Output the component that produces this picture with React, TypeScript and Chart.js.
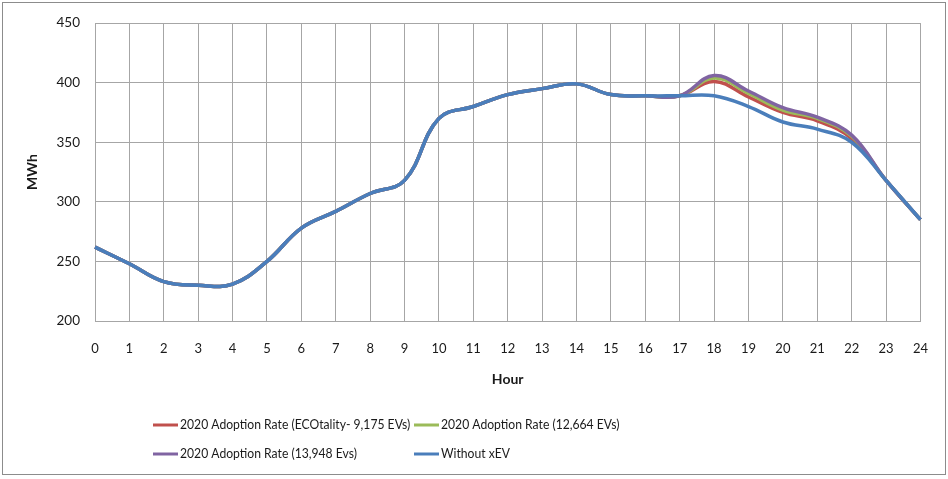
import React, { useEffect, useRef } from "react";
import { Chart, registerables } from "chart.js";

Chart.register(...registerables);

const hours = ["0","1","2","3","4","5","6","7","8","9","10","11","12","13","14","15","16","17","18","19","20","21","22","23","24"];
const withoutXEV = [262,248,233,230,231,250,278,292,307,318,370,380,390,395,399,390,389,389,389,380,367,361,350,318,285];
const ecotality = [262,248,233,230,231,250,278,292,307,318,370,380,390,395,399,390,389,389,401,388,375,368,353,318,285];
const rate12664 = [262,248,233,230,231,250,278,292,307,318,370,380,390,395,399,390,389,389,404,391,377,370,355,318,285];
const rate13948 = [262,248,233,230,231,250,278,292,307,318,370,380,390,395,399,390,389,389,406,393,379,371,356,318,285];

const labels = [
  "2020 Adoption Rate (ECOtality- 9,175 EVs)",
  "2020 Adoption Rate (12,664 EVs)",
  "2020 Adoption Rate (13,948 Evs)",
  "Without xEV",
];
const colors = ["#C0504D", "#9BBB59", "#8064A2", "#4A7EBB"];
const FONT = "Lato, 'Open Sans', sans-serif";

const legendPlugin = {
  id: "gridLegend",
  beforeDraw(chart: any) {
    const ctx = chart.ctx;
    ctx.save();
    ctx.strokeStyle = "#8c8c8c";
    ctx.lineWidth = 1;
    ctx.strokeRect(2.5, 2.5, 943, 472);
    ctx.restore();
  },
  afterDraw(chart: any) {
    const ctx = chart.ctx;
    const ds = chart.data.datasets;
    const pos = [
      { x: 153, y: 425 },
      { x: 414, y: 425 },
      { x: 153, y: 454 },
      { x: 414, y: 454 },
    ];
    ctx.save();
    ctx.font = `13.5px ${FONT}`;
    ctx.textBaseline = "middle";
    ctx.textAlign = "left";
    ds.forEach((d: any, i: number) => {
      const p = pos[i];
      ctx.strokeStyle = d.borderColor;
      ctx.lineWidth = 3;
      ctx.beginPath();
      ctx.moveTo(p.x, p.y);
      ctx.lineTo(p.x + 25, p.y);
      ctx.stroke();
      ctx.fillStyle = "#1a1a1a";
      ctx.save();
      ctx.translate(p.x + 27, p.y);
      ctx.scale(0.9, 1);
      ctx.fillText(d.label, 0, 0);
      ctx.restore();
    });
    ctx.restore();
  },
};

export default function App() {
  const ref = useRef<HTMLCanvasElement>(null);
  useEffect(() => {
    const series = [ecotality, rate12664, rate13948, withoutXEV];
    const orders = [3, 2, 1, 0];
    const chart = new Chart(ref.current!, {
      type: "line",
      data: {
        labels: hours,
        datasets: series.map((s, i) => ({
          label: labels[i],
          data: s,
          borderColor: colors[i],
          backgroundColor: colors[i],
          borderWidth: 3.5,
          pointRadius: 0,
          tension: 0.4,
          fill: false,
          order: orders[i],
        })),
      },
      options: {
        animation: false,
        responsive: false,
        layout: { padding: { left: 20, right: 26, top: 20, bottom: 87 } },
        plugins: { legend: { display: false }, tooltip: { enabled: false } },
        scales: {
          x: {
            offset: false,
            grid: { color: "#a6a6a6", drawTicks: false, lineWidth: 1 },
            border: { color: "#a6a6a6" },
            ticks: { color: "#1a1a1a", font: { family: FONT, size: 13 }, padding: 20, maxRotation: 0, autoSkip: false },
            title: { display: true, text: "Hour", color: "#1a1a1a", font: { family: FONT, size: 14, weight: "bold" } },
            afterFit(scale: any) { scale.height = 71; },
          },
          y: {
            min: 200,
            max: 450,
            grid: { color: "#a6a6a6", drawTicks: false, lineWidth: 1 },
            border: { color: "#a6a6a6" },
            ticks: { stepSize: 50, color: "#1a1a1a", font: { family: FONT, size: 13.5 }, padding: 15 },
            title: { display: true, text: "MWh", color: "#1a1a1a", font: { family: FONT, size: 14, weight: "bold" } },
            afterFit(scale: any) { scale.width = 75; },
          },
        },
      },
      plugins: [legendPlugin],
    } as any);
    return () => chart.destroy();
  }, []);
  return (
    <div style={{ position: "fixed", left: 0, top: 0, width: 948, height: 479, background: "#fff" }}>
      <canvas ref={ref} width={948} height={479} style={{ width: 948, height: 479 }} />
    </div>
  );
}
